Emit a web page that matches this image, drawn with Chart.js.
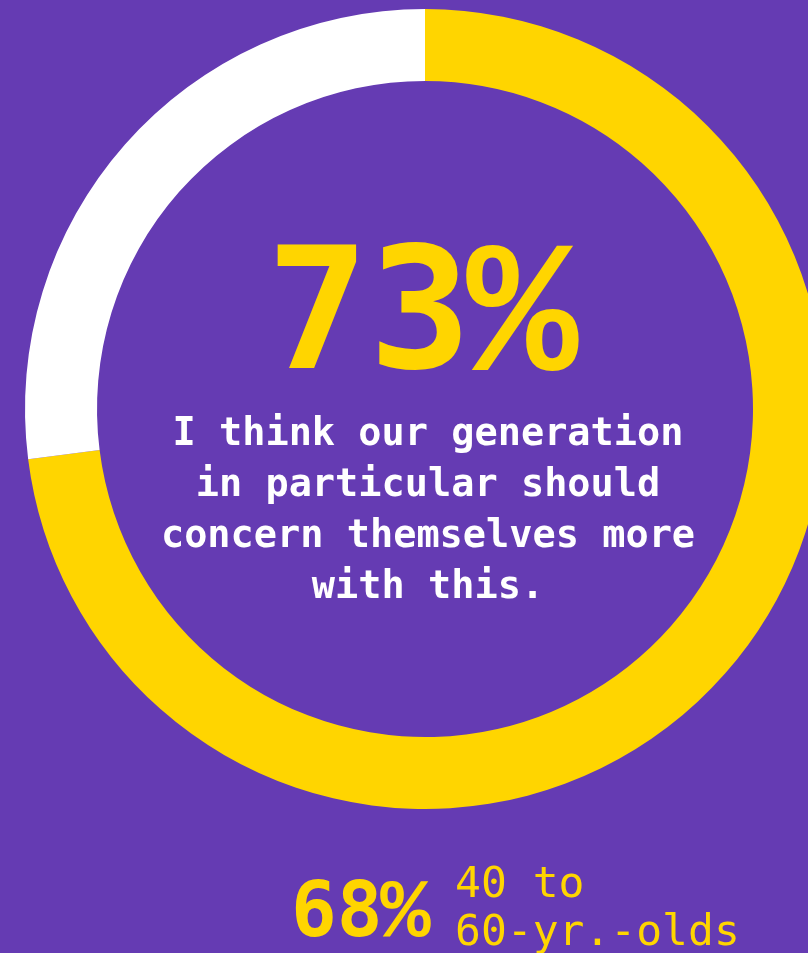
<!DOCTYPE html>
<html>
<head>
<meta charset="utf-8">
<script src="https://cdn.jsdelivr.net/npm/chart.js@4.4.1/dist/chart.umd.min.js"></script>
<style>
  html, body { margin: 0; padding: 0; background: #653BB3; overflow: hidden; width: 808px; height: 953px; }
  #wrap { position: absolute; left: 0; top: 0; width: 850px; height: 953px; }
</style>
</head>
<body>
<div id="wrap"><canvas id="c" width="850" height="953"></canvas></div>
<script>
// Survey result shown in the ring
const labels = ['Agree', 'Other'];
const values = [73, 27];
const ringColors = ['#FFD500', '#FFFFFF'];
const statement = ['I think our generation', 'in particular should', 'concern themselves more', 'with this.'];

// Comparison figure under the ring
const compareValue = 68;
const compareLabel = ['40 to', '60-yr.-olds'];

const MONO = '"DejaVu Sans Mono", "Liberation Mono", monospace';
const PCT = '"Liberation Mono", "DejaVu Sans Mono", monospace';

// draws "<number>%" with the number in one face and a slightly taller sign in another
function drawPercent(ctx, num, size, x, y, align) {
  const numFont = 'bold ' + size + 'px ' + MONO;
  const pctFont = 'bold ' + Math.round(size * 1.1) + 'px ' + PCT;
  ctx.font = numFont;
  const wNum = ctx.measureText(String(num)).width;
  ctx.font = pctFont;
  const wPct = ctx.measureText('%').width;
  let left = x;
  if (align === 'center') left = x - (wNum + wPct) / 2;
  ctx.textAlign = 'left';
  ctx.font = numFont;
  ctx.fillText(String(num), left, y);
  ctx.font = pctFont;
  ctx.fillText('%', left + wNum - size * 0.03, y + size * 0.01);
}

const textPlugin = {
  id: 'ringText',
  afterDraw(chart) {
    const ctx = chart.ctx;
    const arc = chart.getDatasetMeta(0).data[0];
    const cx = arc.x, cy = arc.y;
    ctx.save();
    ctx.textBaseline = 'alphabetic';
    // headline percentage
    ctx.fillStyle = '#FFD500';
    drawPercent(ctx, values[0], 170, cx, cy - 41, 'center');
    // statement
    ctx.fillStyle = '#FFFFFF';
    ctx.textAlign = 'center';
    ctx.font = 'bold 38.6px ' + MONO;
    statement.forEach((line, i) => {
      ctx.fillText(line, cx + 3, cy + 36 + i * 51);
    });
    // comparison
    ctx.fillStyle = '#FFD500';
    drawPercent(ctx, compareValue, 76, 291, 936, 'left');
    ctx.textAlign = 'left';
    ctx.font = '43px ' + MONO;
    compareLabel.forEach((line, i) => {
      ctx.fillText(line, 455, 897 + i * 48);
    });
    ctx.restore();
  }
};

new Chart(document.getElementById('c'), {
  type: 'doughnut',
  data: {
    labels: labels,
    datasets: [{
      data: values,
      backgroundColor: ringColors,
      borderWidth: 0,
      hoverOffset: 0
    }]
  },
  options: {
    responsive: false,
    animation: false,
    cutout: '82%',
    rotation: 0,
    layout: { padding: { left: 25, right: 25, top: 9, bottom: 144 } },
    plugins: { legend: { display: false }, tooltip: { enabled: false } },
    events: []
  },
  plugins: [textPlugin]
});
</script>
</body>
</html>
